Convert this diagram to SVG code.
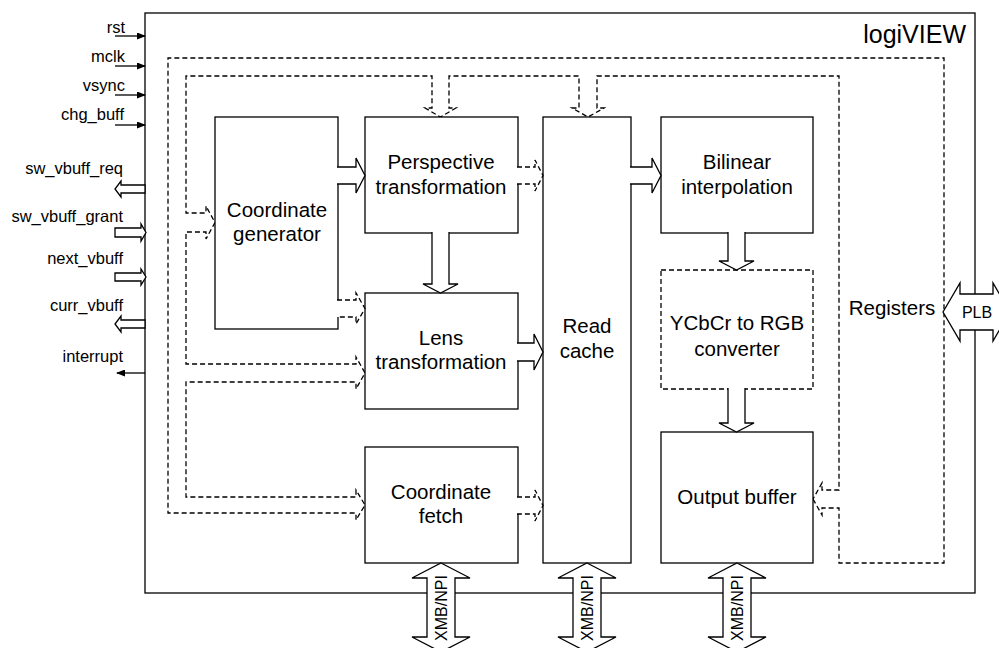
<svg xmlns="http://www.w3.org/2000/svg" width="999" height="648" viewBox="0 0 999 648">
<defs>
<style>
.ln{fill:none;stroke:#000;stroke-width:1.3}
.bx{fill:#fff;stroke:#000;stroke-width:1.3}
.dbx{fill:#fff;stroke:#000;stroke-width:1.3;stroke-dasharray:5,3}
.ar{fill:#fff;stroke:#000;stroke-width:1.3;stroke-linejoin:miter}
.dar{fill:#fff;stroke:#000;stroke-width:1.3;stroke-dasharray:5,3}
.bus{fill:none;stroke:#000;stroke-width:1.3;stroke-dasharray:5,3}
text{font-family:"Liberation Sans",Arial,sans-serif;fill:#000}
.t{font-size:20.5px;text-anchor:middle}
.s{font-size:16.5px;text-anchor:end}
.r{font-size:16px;text-anchor:middle}
</style>
<marker id="ah" markerWidth="9" markerHeight="7" refX="8" refY="3.5" orient="auto" markerUnits="userSpaceOnUse">
<path d="M0,0 L9,3.5 L0,7 z" fill="#000"/>
</marker>
</defs>
<rect width="999" height="648" fill="#fff"/>

<g id="frame">
<rect class="ln" x="145" y="13" width="830" height="580" stroke-width="1.5"/>
<text x="966" y="43" font-size="25" text-anchor="end">logiVIEW</text>
</g>

<g id="registers">
<text class="t" x="892" y="315">Registers</text>
</g>

<g id="connectors">
<path class="bus" d="M813,499 L822,515 L822,508 L839,508 L839,563 L944,563 L944,58 L168,58 L168,513 L356,513 L356,520 L365,505 L356,490 L356,497 L186,497 L186,382 L356,382 L356,389 L365,373 L356,357 L356,364 L186,364 L186,232 L206,232 L206,239 L215,222.5 L206,206 L206,213 L186,213 L186,76 L432,76 L432,108 L425,108 L440.5,117 L456,108 L449,108 L449,76 L579,76 L579,108 L572,108 L588,117 L604,108 L597,108 L597,76 L839,76 L839,490 L822,490 L822,483 Z"/>
</g>

<g id="coord-gen"><rect class="bx" x="215" y="117" width="123" height="212"/>
<text class="t" x="277" y="217">Coordinate</text><text class="t" x="277" y="241">generator</text></g>
<g id="perspective"><rect class="bx" x="365" y="117" width="153" height="116"/>
<text class="t" x="441" y="169">Perspective</text><text class="t" x="441" y="194">transformation</text></g>
<g id="lens"><rect class="bx" x="365" y="293" width="153" height="116"/>
<text class="t" x="441" y="345">Lens</text><text class="t" x="441" y="369">transformation</text></g>
<g id="coord-fetch"><rect class="bx" x="365" y="447" width="153" height="116"/>
<text class="t" x="441" y="499">Coordinate</text><text class="t" x="441" y="523">fetch</text></g>
<g id="read-cache"><rect class="bx" x="543" y="117" width="88" height="446"/>
<text class="t" x="587" y="333">Read</text><text class="t" x="587" y="358">cache</text></g>
<g id="bilinear"><rect class="bx" x="661" y="117" width="152" height="116"/>
<text class="t" x="737" y="169">Bilinear</text><text class="t" x="737" y="194">interpolation</text></g>
<g id="ycbcr"><rect class="dbx" x="661" y="270" width="152" height="119"/>
<text class="t" x="737" y="330">YCbCr to RGB</text><text class="t" x="737" y="356">converter</text></g>
<g id="output-buffer"><rect class="bx" x="661" y="432" width="152" height="131"/>
<text class="t" x="737" y="504">Output buffer</text></g>

<g id="arrows">
<path class="dar" d="M517,167 L535,167 L535,160 L543,175.5 L535,191 L535,184 L517,184"/>
<path class="dar" d="M337,300 L356,300 L356,293 L365,308.5 L356,324 L356,317 L337,317"/>
<path class="dar" d="M517,497 L535,497 L535,490 L543,505.5 L535,521 L535,514 L517,514"/>
<path class="ar" d="M337,167 L356,167 L356,158 L365,175.5 L356,193 L356,184 L337,184"/>
<path class="ar" d="M517,343 L534,343 L534,334 L543,352 L534,370 L534,361 L517,361"/>
<path class="ar" d="M630,167 L652,167 L652,158 L661,175.5 L652,193 L652,184 L630,184"/>
<path class="ar" d="M432,232 L432,284 L423,284 L440.5,293 L458,284 L449,284 L449,232"/>
<path class="ar" d="M728,232 L728,261 L719,261 L736.5,270 L754,261 L745,261 L745,232"/>
<path class="ar" d="M728,388 L728,423 L719,423 L736.5,432 L754,423 L745,423 L745,388"/>
</g>

<g id="xmb1"><path class="ar" d="M441,563 L470,578 L455,578 L455,637 L470,637 L441,652 L412,637 L427,637 L427,578 L412,578 Z"/>
<text class="r" transform="translate(447,608) rotate(-90)">XMB/NPI</text></g>
<g id="xmb2"><path class="ar" d="M587,563 L616,578 L601,578 L601,637 L616,637 L587,652 L558,637 L573,637 L573,578 L558,578 Z"/>
<text class="r" transform="translate(593,608) rotate(-90)">XMB/NPI</text></g>
<g id="xmb3"><path class="ar" d="M737,563 L766,578 L751,578 L751,637 L766,637 L737,652 L708,637 L723,637 L723,578 L708,578 Z"/>
<text class="r" transform="translate(743,608) rotate(-90)">XMB/NPI</text></g>

<g id="plb"><path class="ar" d="M943,312 L960,283 L960,294 L993,294 L993,283 L1010,312 L993,341 L993,330 L960,330 L960,341 Z"/>
<text class="r" x="977" y="318">PLB</text></g>

<g id="signals">
<line class="ln" x1="115" y1="36" x2="145" y2="36" marker-end="url(#ah)"/>
<text class="s" x="125" y="33">rst</text>
<line class="ln" x1="115" y1="66" x2="145" y2="66" marker-end="url(#ah)"/>
<text class="s" x="125" y="62">mclk</text>
<line class="ln" x1="115" y1="95" x2="145" y2="95" marker-end="url(#ah)"/>
<text class="s" x="125" y="91">vsync</text>
<line class="ln" x1="115" y1="125" x2="145" y2="125" marker-end="url(#ah)"/>
<text class="s" x="124" y="120">chg_buff</text>
<path class="ar" d="M145,185 L121,185 L121,181 L115,189 L121,197 L121,193 L145,193 Z"/>
<text class="s" x="123" y="174">sw_vbuff_req</text>
<path class="ar" d="M115,228 L141,228 L141,224 L146,232.5 L141,241 L141,237 L115,237 Z"/>
<text class="s" x="123" y="222">sw_vbuff_grant</text>
<path class="ar" d="M115,273 L141,273 L141,269 L146,277 L141,285 L141,281 L115,281 Z"/>
<text class="s" x="123" y="264">next_vbuff</text>
<path class="ar" d="M145,320 L121,320 L121,316 L115,324 L121,332 L121,328 L145,328 Z"/>
<text class="s" x="123" y="311">curr_vbuff</text>
<line class="ln" x1="145" y1="373" x2="117" y2="373" marker-end="url(#ah)"/>
<text class="s" x="123" y="362">interrupt</text>
</g>
</svg>
